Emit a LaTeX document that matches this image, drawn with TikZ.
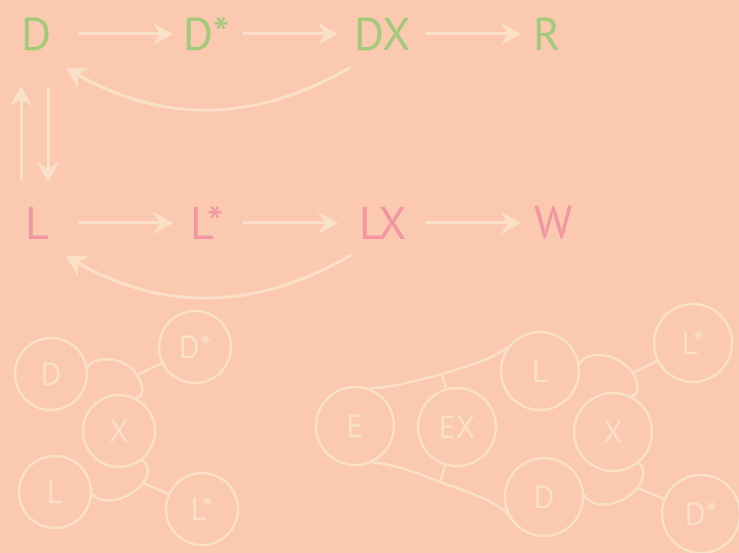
\documentclass[tikz,border=0pt]{standalone}
\usepackage{fontspec}
\setmainfont{PT Sans}
\usetikzlibrary{arrows.meta}

\definecolor{bgpeach}{RGB}{250,201,175}
\definecolor{cream}{RGB}{251,224,200}
\definecolor{leaf}{RGB}{163,201,122}
\definecolor{rose}{RGB}{242,150,162}

\begin{document}
\begin{tikzpicture}[x=1pt, y=1pt,
  word/.style={inner sep=0pt, font=\fontsize{46}{46}\selectfont},
  dword/.style={word, text=leaf},
  lword/.style={word, text=rose},
  arr/.style={-{Stealth[length=20pt, width=22pt, inset=7pt]}, line width=3pt, draw=cream},
  ring/.style={circle, draw=cream, line width=2.4pt, minimum size=72pt, inner sep=0pt, text=cream, font=\fontsize{32}{32}\selectfont},
  bigring/.style={ring, minimum size=78pt},
  ln/.style={draw=cream, line width=2.4pt},
]
\fill[bgpeach] (0,0) rectangle (739,-553);
\useasboundingbox (0,0) rectangle (739,-553);

% D row
\node[dword] (D) at (37,-34) {D};
\node[dword] (Ds) at (207,-34) {D*};
\node[dword] (DX) at (383,-34) {DX};
\node[dword] (R) at (547,-34) {R};

% L row
\node[lword] (L) at (37,-223) {L};
\node[lword] (Ls) at (207,-223) {L*};
\node[lword] (LX) at (383,-223) {LX};
\node[lword] (W) at (554,-223) {W};

% row arrows
\draw[arr, shorten <=41pt, shorten >=34pt] (D.center) -- (Ds.center);
\draw[arr, shorten <=36pt, shorten >=45pt] (Ds.center) -- (DX.center);
\draw[arr, shorten <=42pt, shorten >=26pt] (DX.center) -- (R.center);
\draw[arr, shorten <=41pt, shorten >=34pt] (L.center) -- (Ls.center);
\draw[arr, shorten <=36pt, shorten >=45pt] (Ls.center) -- (LX.center);
\draw[arr, shorten <=42pt, shorten >=33pt] (LX.center) -- (W.center);

% between the rows
\draw[arr, shorten <=42pt, shorten >=52pt] ([xshift=-16pt]L.center) -- ([xshift=-16pt]D.center);
\draw[arr, shorten <=53pt, shorten >=41pt] ([xshift=11pt]D.center) -- ([xshift=11pt]L.center);

% back arrows
\draw[arr] ([shift={(-32,-33)}]DX.center) to[bend left=30] ([shift={(29,-34)}]D.center);
\draw[arr] ([shift={(-32,-32)}]LX.center) to[bend left=30] ([shift={(29,-33)}]L.center);

% left cluster
\node[ring] (lD) at (51,-374) {D};
\node[ring] (lDs) at (195,-347) {D*};
\node[ring] (lX) at (119,-431) {X};
\node[ring] (lL) at (55,-492) {L};
\node[ring] (lLs) at (202,-509) {L*};
\coordinate (lJa) at (137,-375);
\coordinate (lJb) at (143,-483);

\draw[ln] (lD.10) .. controls (92,-356) and (125,-355) .. (lJa)
  .. controls (143,-385) and (146,-396) .. (lX.63);
\draw[ln] (lX.-53) .. controls (149,-461) and (150,-476) .. (lJb)
  .. controls (133,-497) and (104,-508) .. (lL.-3);
\draw[ln] (lJa) -- (lDs);
\draw[ln] (lJb) -- (lLs);

% right cluster
\node[bigring] (rE) at (355,-426) {E};
\node[bigring] (rEX) at (457,-427) {EX};
\node[bigring] (rL) at (540,-371) {L};
\node[bigring] (rLs) at (693,-343) {L*};
\node[bigring] (rX) at (613,-432) {X};
\node[bigring] (rD) at (544,-497) {D};
\node[bigring] (rDs) at (701,-514) {D*};
\coordinate (rJa) at (633,-373);
\coordinate (rJb) at (637,-488);
\coordinate (rJc) at (442,-374);
\coordinate (rJd) at (440,-482);

\draw[ln] (rL.10) .. controls (586,-351) and (615,-350) .. (rJa)
  .. controls (638,-382) and (641,-396) .. (rX.64);
\draw[ln] (rX.-52) .. controls (645,-464) and (645,-480) .. (rJb)
  .. controls (626,-504) and (594,-512) .. (rD.3);
\draw[ln] (rJa) -- (rLs);
\draw[ln] (rJb) -- (rDs);

\draw[ln] (rE.70) .. controls (392,-388) and (418,-380) .. (rJc)
  .. controls (464,-367) and (492,-360) .. (rL.143);
\draw[ln] (rE.-65) .. controls (395,-464) and (420,-474) .. (rJd)
  .. controls (462,-490) and (495,-500) .. (rD.205);
\draw[ln] (rJc) -- (rEX);
\draw[ln] (rJd) -- (rEX);

\end{tikzpicture}
\end{document}
